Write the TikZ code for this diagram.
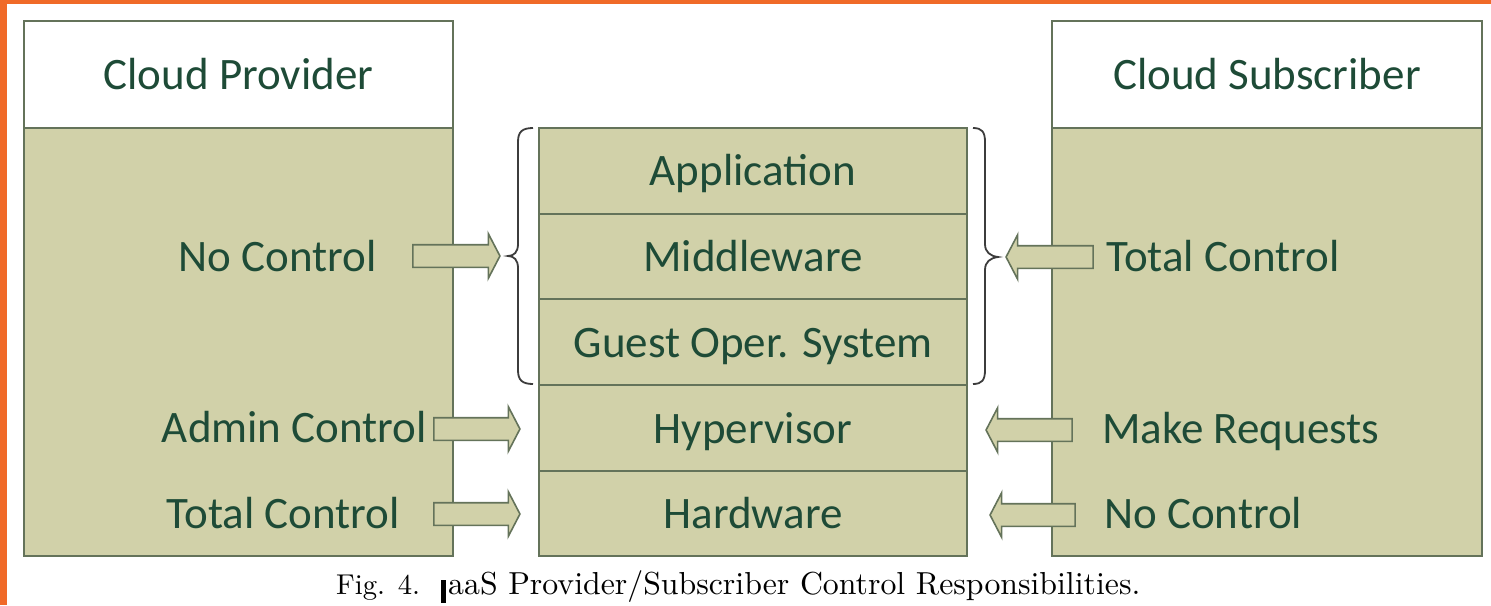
\documentclass[tikz,border=0pt]{standalone}
\usepackage{fontspec}
\usepackage{graphicx}
\newfontfamily\carlitofont{Carlito}
\usetikzlibrary{shapes.arrows}
\definecolor{olive}{RGB}{209,209,169}
\definecolor{edge}{RGB}{100,115,90}
\definecolor{ink}{RGB}{30,75,55}
\definecolor{orng}{RGB}{240,106,40}
\definecolor{brc}{RGB}{60,60,60}
\tikzset{
  lbl/.style={font=\carlitofont\fontsize{45}{50}\selectfont, text=ink, inner sep=0pt},
  hdr/.style={draw=edge, line width=2pt, fill=white, inner sep=0pt},
  body/.style={draw=edge, line width=2pt, fill=olive, inner sep=0pt},
  layer/.style={draw=edge, line width=2pt, fill=olive, inner sep=0pt, minimum width=428pt, minimum height=85.6pt},
  blockarrow/.style={single arrow, draw=edge, line width=1.6pt, fill=olive, inner xsep=0pt, inner ysep=10.5pt,
     text height=0pt, text depth=0pt, single arrow head extend=11pt, single arrow tip angle=125},
  bracepath/.style={draw=brc, line width=1.8pt},
  captxt/.style={anchor=base west, inner sep=0pt, text=black, font=\fontsize{10}{12}\selectfont},
}
\begin{document}
\begin{tikzpicture}[x=1pt,y=-1pt]
\useasboundingbox (0,0) rectangle (1491,605);
\fill[white] (0,0) rectangle (1491,605);
\fill[orng] (0,0) rectangle (7,605);
\fill[orng] (0,0) rectangle (1491,4);
% left box
\node[body, minimum width=429pt, minimum height=428pt] (lbody) at (238.5,342) {};
\node[hdr, minimum width=429pt, minimum height=107pt] (lhdr) at (238.5,74.5) {};
\node[lbl, anchor=base] (lhdrt) at (238.5,89) {Cloud Provider};
% right box
\node[body, minimum width=430pt, minimum height=428pt] (rbody) at (1267,342) {};
\node[hdr, minimum width=430pt, minimum height=107pt] (rhdr) at (1267,74.5) {};
\node[lbl, anchor=base] (rhdrt) at (1267,89) {Cloud Subscriber};
% middle stack
\node[layer] (app) at (753,171) {};
\node[layer] (mid) at (753,256.6) {};
\node[layer] (gos) at (753,342.2) {};
\node[layer] (hyp) at (753,427.8) {};
\node[layer] (hw) at (753,513.4) {};
\node[lbl, anchor=base] (appt) at (753,185) {Application};
\node[lbl, anchor=base] (midt) at (753,271) {Middleware};
\node[lbl, anchor=base] (gost) at (753,357) {Guest Oper. System};
\node[lbl, anchor=base] (hypt) at (753,443) {Hypervisor};
\node[lbl, anchor=base] (hwt) at (753,528) {Hardware};
% left labels
\node[lbl, anchor=base east] (lnc) at (377,271) {No Control};
\node[lbl, anchor=base east] (lac) at (427,442) {Admin Control};
\node[lbl, anchor=base east] (ltc) at (400,528) {Total Control};
% right labels
\node[lbl, anchor=base west] (rtc) at (1106,271) {Total Control};
\node[lbl, anchor=base west] (rmr) at (1102,443) {Make Requests};
\node[lbl, anchor=base west] (rnc) at (1104,528) {No Control};
% arrows
\node[blockarrow, minimum height=87pt] (a1) at (453.5,256) {};
\node[blockarrow, minimum height=86pt] (a2) at (474,429) {};
\node[blockarrow, minimum height=86pt] (a3) at (474,514) {};
\node[blockarrow, minimum height=87pt, shape border rotate=180] (a4) at (1052.5,257) {};
\node[blockarrow, minimum height=86pt, shape border rotate=180] (a5) at (1032,430) {};
\node[blockarrow, minimum height=85pt, shape border rotate=180] (a6) at (1035.5,515) {};
% braces
\draw[bracepath] (533,128) .. controls (522,128) and (518,132) .. (518,142)
  -- (518,244) .. controls (518,252) and (514,256) .. (508,256)
  .. controls (514,256) and (518,260) .. (518,268)
  -- (518,370) .. controls (518,380) and (522,384) .. (533,384);
\draw[bracepath] (973,128) .. controls (982,128) and (985,132) .. (985,142)
  -- (985,244) .. controls (985,252) and (990,256) .. (998,257)
  .. controls (990,258) and (985,262) .. (985,270)
  -- (985,370) .. controls (985,380) and (982,384) .. (973,384);
% caption
\node[captxt] (cap1) at (336,594) {\resizebox{84pt}{!}{Fig. 4.}};
\fill[black] (441,580) rectangle (446,603);
\node[captxt] (cap2) at (448,594) {\resizebox{692pt}{!}{aaS Provider/Subscriber Control Responsibilities.}};
\end{tikzpicture}
\end{document}
